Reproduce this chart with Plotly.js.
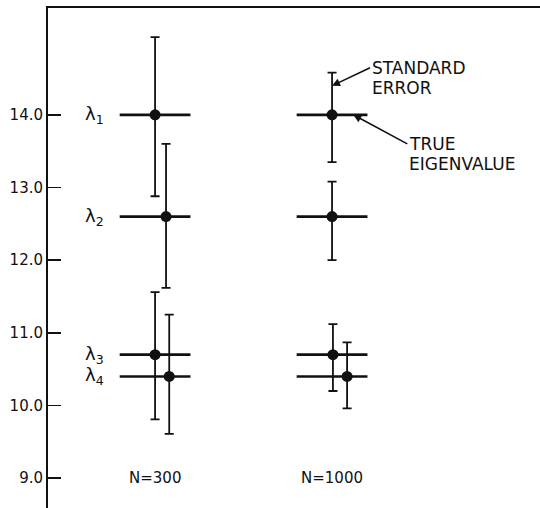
<!DOCTYPE html>
<html>
<head>
<meta charset="utf-8">
<script src="https://cdn.plot.ly/plotly-3.0.1.min.js"></script>
<style>html,body{margin:0;padding:0;background:#fff;}#chart{width:540px;height:508px;}</style>
</head>
<body>
<div id="chart"></div>
<script>
// Sample sizes (group positions on the x axis: 1 and 2)
const groups = ['N=300', 'N=1000'];
const groupPos = [1, 2];
const eigenLabels = ['λ<sub>1</sub>', 'λ<sub>2</sub>', 'λ<sub>3</sub>', 'λ<sub>4</sub>'];
// True eigenvalues
const trueValues = [14.0, 12.6, 10.7, 10.4];
// Small horizontal offsets of each estimate from the group centre
const offsetN300 = [0.0, 0.062, 0.0, 0.08];
const offsetN1000 = [0.0, 0.0, 0.005, 0.085];
// Estimated eigenvalues (dots)
const estN300 = [14.0, 12.6, 10.7, 10.4];
const estN1000 = [14.0, 12.6, 10.7, 10.4];
// Standard error (upper / lower)
const seUpN300 = [1.07, 1.0, 0.86, 0.85];
const seDownN300 = [1.12, 0.98, 0.89, 0.79];
const seUpN1000 = [0.58, 0.48, 0.42, 0.47];
const seDownN1000 = [0.65, 0.6, 0.5, 0.44];
// Half-length of the "true eigenvalue" bar
const trueHalf = 0.2;

const ink = '#111';
const font = "'DejaVu Sans', 'Liberation Sans', Arial, sans-serif";

function trueTrace(center) {
  return {
    x: trueValues.map(() => center), y: trueValues, type: 'scatter', mode: 'markers',
    marker: {size: 1, color: 'rgba(0,0,0,0)'},
    error_x: {type: 'constant', value: trueHalf, color: ink, thickness: 2.6, width: 0},
    hoverinfo: 'skip', showlegend: false
  };
}
function estTrace(center, offs, est, up, down) {
  return {
    x: offs.map(o => center + o), y: est, type: 'scatter', mode: 'markers',
    marker: {size: 11, color: ink},
    error_y: {type: 'data', symmetric: false, array: up, arrayminus: down, color: ink, thickness: 1.8, width: 4.5},
    showlegend: false
  };
}

const data = [
  trueTrace(groupPos[0]), trueTrace(groupPos[1]),
  estTrace(groupPos[0], offsetN300, estN300, seUpN300, seDownN300),
  estTrace(groupPos[1], offsetN1000, estN1000, seUpN1000, seDownN1000)
];

const annotations = [];
trueValues.forEach((v, i) => {
  annotations.push({x: 0.59, y: v, xref: 'x', yref: 'y', text: eigenLabels[i], showarrow: false,
    xanchor: 'left', yanchor: 'middle', font: {family: font, size: 18, color: ink}});
});
groups.forEach((g, i) => {
  annotations.push({x: groupPos[i], y: 9.0, xref: 'x', yref: 'y', text: g, showarrow: false,
    xanchor: 'center', yanchor: 'middle', font: {family: font, size: 15, color: ink}});
});
const callFont = {family: font, size: 17, color: ink};
annotations.push({x: groupPos[1], y: estN1000[0] + 0.4, xref: 'x', yref: 'y', text: 'STANDARD',
  showarrow: true, arrowhead: 2, arrowsize: 1, arrowwidth: 1.6, arrowcolor: ink, ax: 38, ay: -18,
  xanchor: 'left', yanchor: 'middle', font: callFont});
annotations.push({x: 2.215, y: 14.372, xref: 'x', yref: 'y', text: 'ERROR', showarrow: false,
  xanchor: 'left', yanchor: 'middle', font: callFont});
annotations.push({x: groupPos[1] + 0.12, y: trueValues[0], xref: 'x', yref: 'y', text: 'TRUE',
  showarrow: true, arrowhead: 2, arrowsize: 1, arrowwidth: 1.6, arrowcolor: ink, ax: 54, ay: 29,
  xanchor: 'left', yanchor: 'middle', font: callFont});
annotations.push({x: 2.424, y: 13.325, xref: 'x', yref: 'y', text: 'EIGENVALUE', showarrow: false,
  xanchor: 'left', yanchor: 'middle', font: callFont});

const layout = {
  width: 540, height: 508,
  margin: {l: 48, r: 0, t: 8, b: 0},
  paper_bgcolor: '#fff', plot_bgcolor: '#fff',
  xaxis: {range: [0.395, 3.175], side: 'top', showline: true, linecolor: ink, linewidth: 2,
    showgrid: false, zeroline: false, ticks: '', showticklabels: false},
  yaxis: {range: [8.59, 15.47], showline: true, linecolor: ink, linewidth: 2, showgrid: false, zeroline: false,
    ticks: 'inside', ticklen: 13, tickwidth: 1.8, tickcolor: ink,
    tickvals: [9, 10, 11, 12, 13, 14], ticktext: ['9.0', '10.0', '11.0', '12.0', '13.0', '14.0'],
    tickfont: {family: font, size: 15, color: ink}},
  annotations: annotations,
  showlegend: false
};

Plotly.newPlot('chart', data, layout, {staticPlot: true});
</script>
</body>
</html>
